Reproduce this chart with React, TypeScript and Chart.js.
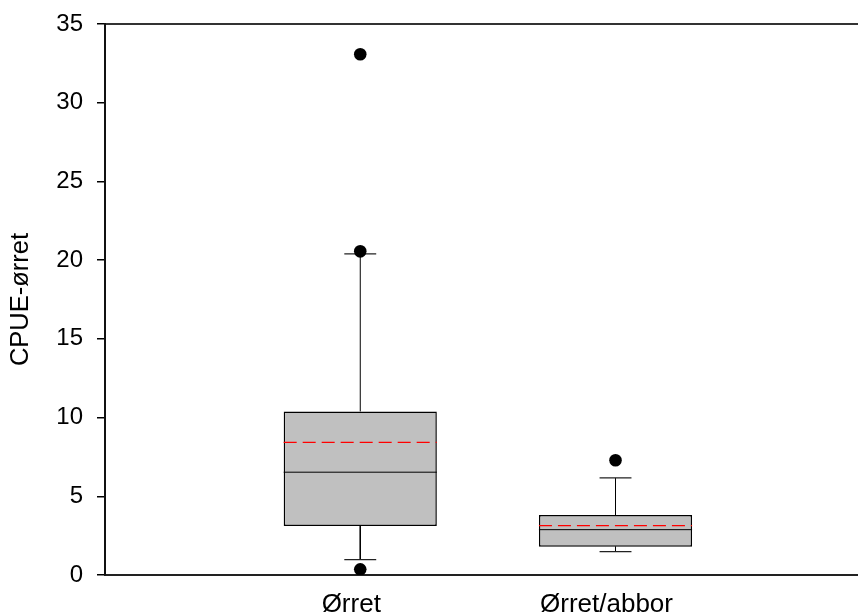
import React, { useEffect, useRef } from "react";
import { Chart, registerables } from "chart.js";

Chart.register(...registerables);

const categories = ["Ørret", "Ørret/abbor"];
const positions = [1, 2];
const q1 = [3.12, 1.8];
const q3 = [10.39, 3.81];
const medians = [6.53, 2.88];
const means = [8.42, 3.14];
const whiskerLow = [0.98, 1.49];
const whiskerHigh = [20.4, 6.17];
const outliers = [
  [0.36, 20.56, 33.08],
  [7.29],
];
const yTickValues = [0, 5, 10, 15, 20, 25, 30, 35];

const BOX_HALF = 0.3;
const CAP_HALF = 0.0625;
const FONT = "'Liberation Sans', Arial, sans-serif";

function seg(x1: number, y1: number, x2: number, y2: number, color: string, width: number, dash: number[] = [], order = 2) {
  return {
    type: "line",
    data: [
      { x: x1, y: y1 },
      { x: x2, y: y2 },
    ],
    borderColor: color,
    borderWidth: width,
    borderDash: dash,
    pointRadius: 0,
    order,
  } as any;
}

export default function App() {
  const ref = useRef<HTMLCanvasElement | null>(null);

  useEffect(() => {
    if (!ref.current) return;

    const datasets: any[] = [];

    positions.forEach((p, i) => {
      datasets.push(seg(p, q3[i], p, whiskerHigh[i], "#000", 1, [], 6));
      datasets.push(seg(p, q1[i], p, whiskerLow[i], "#000", 1, [], 6));
      datasets.push(seg(p - CAP_HALF, whiskerHigh[i], p + CAP_HALF, whiskerHigh[i], "#222", 1.2, [], 5));
      datasets.push(seg(p - CAP_HALF, whiskerLow[i], p + CAP_HALF, whiskerLow[i], "#222", 1.2, [], 5));
    });

    datasets.push({
      type: "bar",
      data: positions.map((p, i) => ({ x: p, y: [q1[i], q3[i]] })),
      backgroundColor: "#c0c0c0",
      borderColor: "#000",
      borderWidth: 1.5,
      borderSkipped: false,
      categoryPercentage: 1,
      barPercentage: 0.6,
      order: 4,
    });

    positions.forEach((p, i) => {
      datasets.push(seg(p - BOX_HALF, medians[i], p + BOX_HALF, medians[i], "#000", 1, [], 3));
      datasets.push(seg(p - BOX_HALF, means[i], p + BOX_HALF, means[i], "#ff0000", 1.3, [13, 6], 2));
    });

    const outlierPts: any[] = [];
    positions.forEach((p, i) => {
      outliers[i].forEach((v) => outlierPts.push({ x: p, y: v }));
    });
    datasets.push({
      type: "line",
      data: outlierPts,
      showLine: false,
      pointRadius: 6.3,
      pointBackgroundColor: "#000",
      pointBorderColor: "#000",
      pointBorderWidth: 0,
      order: 1,
    });

    const chart = new Chart(ref.current, {
      type: "bar",
      data: { datasets },
      options: {
        responsive: false,
        animation: false,
        events: [],
        layout: { autoPadding: false, padding: { top: 24, right: 0, left: 0, bottom: 0 } },
        plugins: {
          legend: { display: false },
          tooltip: { enabled: false },
        },
        scales: {
          x: {
            type: "linear",
            position: "bottom",
            min: 0,
            max: 2.95,
            offset: false,
            grid: { display: false, drawTicks: false },
            border: { display: true, color: "#222", width: 2 },
            afterBuildTicks: (s: any) => {
              s.ticks = positions.map((v) => ({ value: v }));
            },
            afterFit: (s: any) => {
              s.height = 37;
              s.paddingLeft = 0;
              s.paddingRight = 0;
            },
            ticks: {
              color: "#000",
              font: { family: FONT, size: 26 },
              padding: 14,
              labelOffset: -9,
              maxRotation: 0,
              autoSkip: false,
              callback: (v: any) => {
                const i = positions.indexOf(Number(v));
                return i >= 0 ? categories[i] : "";
              },
            },
          },
          x2: {
            type: "linear",
            position: "top",
            min: 0,
            max: 2.95,
            display: true,
            grid: { display: false, drawTicks: false },
            ticks: { display: false },
            border: { display: true, color: "#333", width: 2 },
            afterFit: (s: any) => {
              s.height = 0;
              s.paddingLeft = 0;
              s.paddingRight = 0;
            },
          },
          y: {
            type: "linear",
            min: 0,
            max: 35,
            afterBuildTicks: (s: any) => {
              s.ticks = yTickValues.map((v) => ({ value: v }));
            },
            afterFit: (s: any) => {
              s.width = 105;
              s.paddingTop = 0;
              s.paddingBottom = 0;
            },
            grid: {
              display: true,
              drawOnChartArea: false,
              drawTicks: true,
              tickLength: 8,
              color: "#000",
              lineWidth: 1.5,
            },
            border: { display: true, color: "#111", width: 2 },
            ticks: {
              color: "#000",
              font: { family: FONT, size: 24 },
              padding: 14,
            },
            title: {
              display: true,
              text: "CPUE-ørret",
              color: "#000",
              font: { family: FONT, size: 25.5 },
              padding: { top: 6, bottom: 0 },
            },
          },
        },
      } as any,
    });

    return () => chart.destroy();
  }, []);

  return (
    <div style={{ position: "absolute", left: 0, top: 0, width: 858, height: 612, background: "#fff" }}>
      <canvas ref={ref} width={858} height={612} style={{ display: "block" }} />
    </div>
  );
}
